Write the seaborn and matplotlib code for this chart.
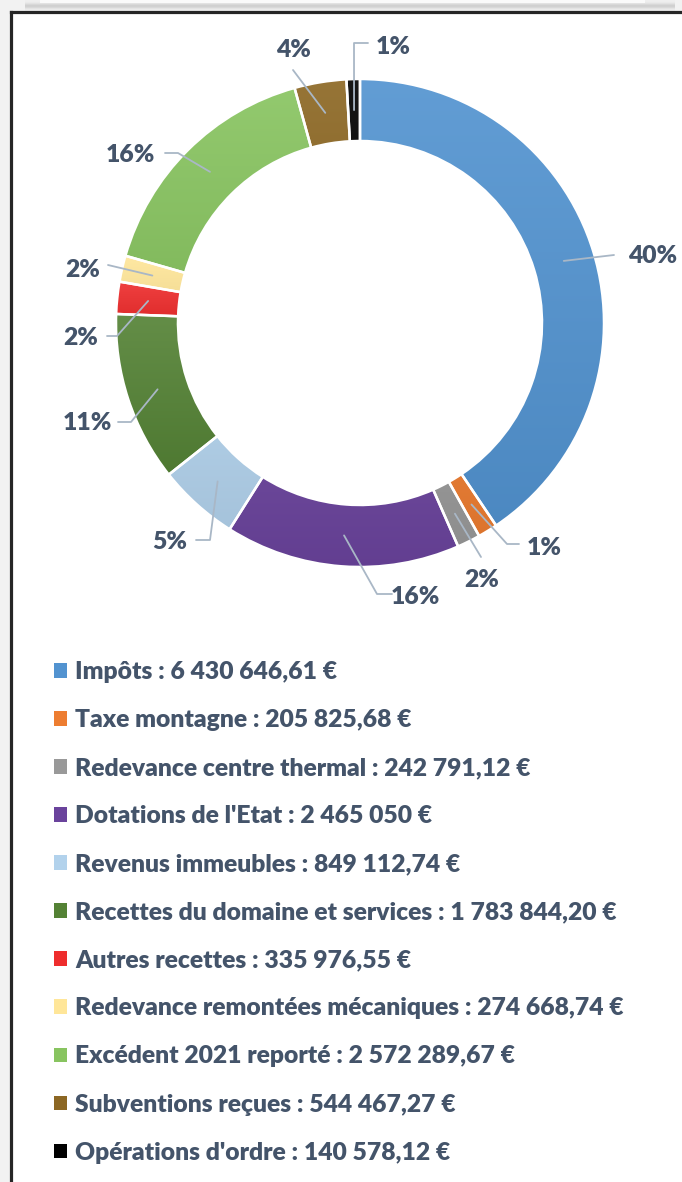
import numpy as np
import matplotlib.pyplot as plt
from matplotlib.patches import Rectangle, Patch
from matplotlib.colors import to_rgb
import seaborn as sns

categories = ["Impôts", "Taxe montagne", "Redevance centre thermal", "Dotations de l'Etat",
              "Revenus immeubles", "Recettes du domaine et services", "Autres recettes",
              "Redevance remontées mécaniques", "Excédent 2021 reporté", "Subventions reçues",
              "Opérations d'ordre"]
amounts = [6430646.61, 205825.68, 242791.12, 2465050, 849112.74, 1783844.20,
           335976.55, 274668.74, 2572289.67, 544467.27, 140578.12]
amount_text = ["6 430 646,61 €", "205 825,68 €", "242 791,12 €", "2 465 050 €", "849 112,74 €",
               "1 783 844,20 €", "335 976,55 €", "274 668,74 €", "2 572 289,67 €", "544 467,27 €",
               "140 578,12 €"]
pct_text = ["40%", "1%", "2%", "16%", "5%", "11%", "2%", "2%", "16%", "4%", "1%"]

colors = ["#5293D0", "#ED7D31", "#999999", "#6A439C", "#B2D2EC", "#548235",
          "#EE2D2D", "#FFE699", "#88C460", "#8C6723", "#000000"]

# label placement in pixels (y down): text centre, elbow, end of leader line
label_pos = [(653, 256), (544, 548), (482, 580), (415, 597), (170, 542), (87, 423),
             (81, 338), (83, 270), (130, 155), (293, 50), (393, 47)]
elbows = [(614, 255), (507, 544), (481, 557), (377, 594), (210, 540), (131, 422),
          (117, 336), (108, 265), (178, 153), (293, 70), (354, 43)]
ends = [(614, 255), (519, 544), (481, 557), (392, 594), (196, 540), (118, 422),
        (107, 336), (108, 265), (165, 153), (293, 70), (368, 43)]

sns.set_theme(style="white")
plt.rcParams["font.family"] = ["Lato", "DejaVu Sans"]
txt_col = "#44546A"
line_col = "#A9B7C6"
fs = 17.7

W, H = 682, 1182
fig = plt.figure(figsize=(W / 100, H / 100), dpi=100, facecolor="#F2F2F2")
ax = fig.add_axes([0, 0, 1, 1])
ax.set_facecolor("#F2F2F2")

# card above (shadow) and white panel with dark border
grad = np.linspace(0, 1, 12)[:, None]
shade = np.clip(0.94 - 0.13 * np.exp(-((grad - 0.55) / 0.25) ** 2), 0, 1)
ax.imshow(np.repeat(shade, 2, axis=1), cmap="gray", vmin=0, vmax=1, extent=(25, 675, 11, 0),
          aspect="auto", zorder=0, interpolation="bilinear")
ax.add_patch(Rectangle((40, -10), 605, 13, facecolor="#FAFAFA", edgecolor="none", zorder=0.5))
ax.add_patch(Rectangle((11, 12), W, H, facecolor="white", edgecolor="none", zorder=0.6))
ax.plot([11, 11], [H + 5, 12], color="#262626", lw=2.3, zorder=1, solid_capstyle="projecting")
ax.plot([11, W + 5], [12, 12], color="#262626", lw=2.3, zorder=1, solid_capstyle="projecting")

cx, cy, R, ring = 360, 323, 244, 62
wedges, _ = ax.pie(amounts, colors=colors, startangle=-90, counterclock=True,
                   center=(cx, cy), radius=R,
                   wedgeprops=dict(width=ring, edgecolor="white", linewidth=1.8))

# soft vertical gradient inside each slice, like the office chart fill
t = np.linspace(0, 1, 64)[:, None, None]
for w, c in zip(wedges, colors):
    base = np.array(to_rgb(c))
    top = base + (1 - base) * 0.09
    bot = base * 0.93
    img = top * (1 - t) + bot * t
    v = w.get_path().vertices
    im = ax.imshow(img, extent=(v[:, 0].min(), v[:, 0].max(), v[:, 1].max(), v[:, 1].min()),
                   aspect="auto", zorder=1.9, interpolation="bilinear")
    im.set_clip_path(w)
    w.set_facecolor("none")
    w.set_zorder(2)

rmid = R - ring / 2
for w, p, tp, el, en in zip(wedges, pct_text, label_pos, elbows, ends):
    ang = np.deg2rad((w.theta1 + w.theta2) / 2)
    ax0, ay0 = cx + rmid * np.cos(ang), cy + rmid * np.sin(ang)
    ax.plot([ax0, el[0], en[0]], [ay0, el[1], en[1]], color=line_col, lw=1.3, zorder=3)
    ax.text(tp[0], tp[1], p, ha="center", va="center", fontsize=fs, fontweight="heavy",
            color=txt_col, zorder=4)

ax.set_xlim(0, W)
ax.set_ylim(H, 0)
ax.set_aspect("auto")
ax.axis("off")

handles = [Patch(facecolor=c, edgecolor="none") for c in colors]
labels = [f"{c} : {a}" for c, a in zip(categories, amount_text)]
leg = ax.legend(handles, labels, loc="upper left", bbox_to_anchor=(54 / W, 1 - 661 / H),
                frameon=False, prop=dict(weight="heavy", size=fs),
                labelcolor=txt_col, handlelength=0.53, handleheight=0.53,
                handletextpad=0.33, labelspacing=1.06, borderpad=0, borderaxespad=0)

fig.savefig("out.png", dpi=100, facecolor=fig.get_facecolor())
